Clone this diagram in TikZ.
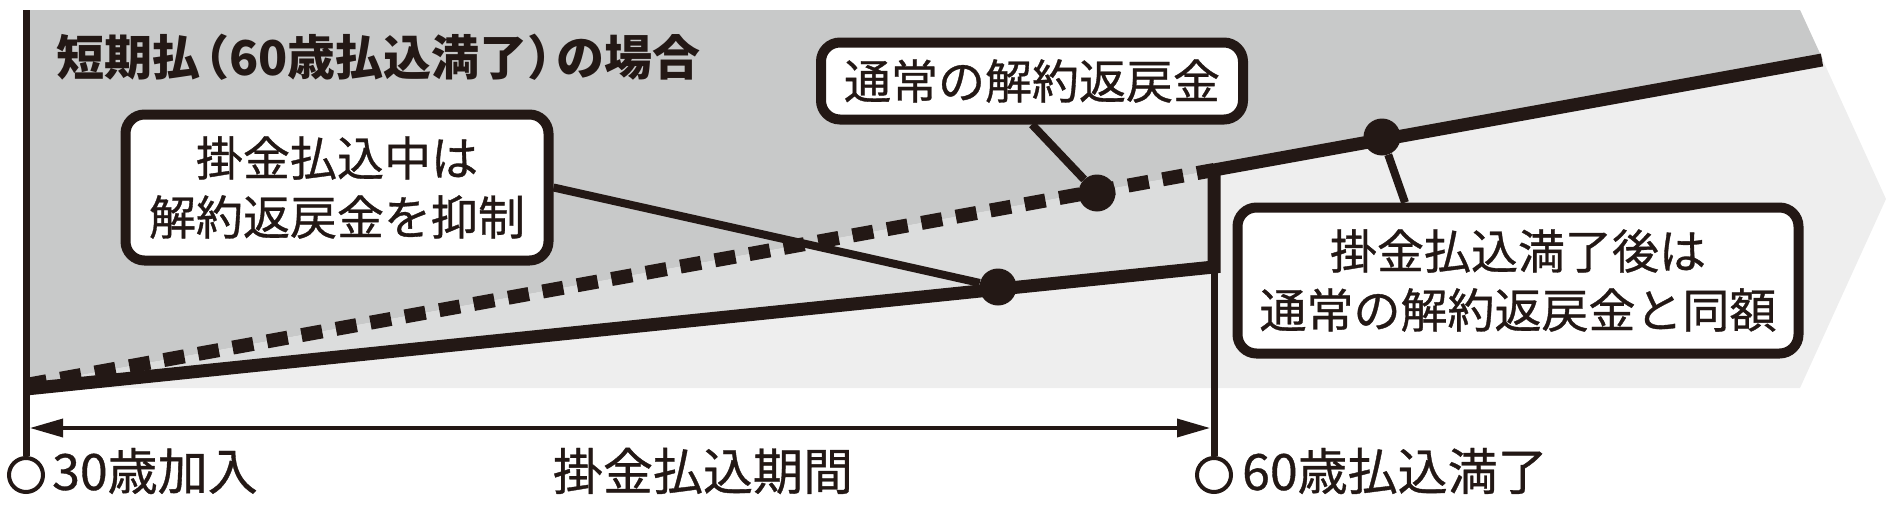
\documentclass[tikz,border=0pt]{standalone}
\usepackage{fontspec}
\usetikzlibrary{arrows.meta}
\newfontfamily\jpfont[FakeBold=0.7]{Noto Sans CJK JP}
\newfontfamily\jphead{Noto Sans CJK JP}
\definecolor{ink}{HTML}{231815}
\definecolor{bgdark}{HTML}{C8C9C9}
\definecolor{bgmid}{HTML}{DCDDDD}
\definecolor{bglight}{HTML}{EEEEEE}
\tikzstyle{bubble}=[draw=ink, line width=10pt, fill=white, rounded corners=19pt, inner sep=0pt, align=center, text=ink, font=\jpfont\fontsize{47}{59}\selectfont]
\tikzstyle{marker}=[circle, fill=ink, inner sep=0pt, minimum size=37pt]
\tikzstyle{ring}=[circle, draw=ink, line width=4pt, fill=white, inner sep=0pt, minimum size=34pt]
\tikzstyle{agetext}=[inner sep=0pt, text=ink, font=\jpfont\fontsize{50}{60}\selectfont]
\tikzstyle{leader}=[draw=ink, line width=8pt]
\newcommand{\marker}{\node[marker]}
\newcommand{\bubble}{\node[bubble]}

\begin{document}
\begin{tikzpicture}[x=1pt, y=-1pt, line cap=butt
  ,thickline/.style={draw=ink, line width=13pt, line join=miter}
  ,thinline/.style={draw=ink, line width=7pt}
]
\useasboundingbox (0,0) rectangle (1896,506);
% background arrow
\fill[bglight] (26,10) -- (1800,10) -- (1886,199) -- (1800,388) -- (26,388) -- cycle;
\fill[bgdark] (26,10) -- (1800,10) -- (1823,60) -- (26,385) -- cycle;
\fill[bgmid] (26,385) -- (1214,170) -- (1214,267) -- (26,389) -- cycle;
\coordinate (top30) at (26,10);
\coordinate (low0) at (26,389);
\coordinate (nrm0) at (26,385);
\coordinate (lowend) at (1214,267);
\coordinate (nrmmid) at (1214,170);
\coordinate (nrmend) at (1822,60);
\coordinate (span0) at (30,428);
\coordinate (span1) at (1210,428);
\node[ring] (ring30) at (26,475) {};
\node[ring] (ring60) at (1214,475) {};
\draw[ink, line width=14pt, dash pattern=on 21pt off 14pt] (nrm0) -- (nrmmid);
\draw[thickline] (low0) -- (lowend) -- (nrmmid) -- (nrmend);
\draw[thinline] (top30) -- (ring30);
\draw[thinline] (nrmmid) -- (ring60);
\draw[draw=ink, line width=3.5pt, <->, >={Triangle[length=33pt,width=18pt]}] (span0) -- (span1);
\node[agetext, font=\jphead\bfseries\fontsize{48}{50}\selectfont, anchor=west] (title) at (56,57) {短期払\kern-.4em（60歳払込満了）\kern-.4em の場合};
\node[agetext, anchor=west] (age30) at (52,471) {30歳加入};
\node[agetext] (period) at (703,471) {掛金払込期間};
\node[agetext, anchor=west] (age60) at (1242,471) {60歳払込満了};
\bubble[minimum width=422pt, minimum height=77pt] (boxA) at (1032,81) {通常の解約返戻金};
\bubble[minimum width=423pt, minimum height=146pt] (boxB) at (337,187.5) {掛金払込中は\\解約返戻金を抑制};
\bubble[minimum width=561pt, minimum height=146pt] (boxC) at (1518,280.5) {掛金払込満了後は\\通常の解約返戻金と同額};
\marker (dotA) at (1097,193) {};
\marker (dotB) at (998,287) {};
\marker (dotC) at (1382,137) {};
\path
(boxA.south) edge[leader] (dotA)
(boxB.east) edge[leader] (dotB)
([xshift=-113pt]boxC.north) edge[leader] (dotC)
;
\end{tikzpicture}
\end{document}
